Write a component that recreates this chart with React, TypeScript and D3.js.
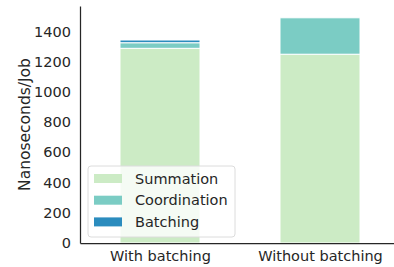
import React, { useEffect, useRef } from 'react';
import * as d3 from 'd3';

const categories = ['With batching', 'Without batching'];
const seriesNames = ['Summation', 'Coordination', 'Batching'];
const summation = [1288, 1249];
const coordination = [37, 241];
const batching = [18, 0];
const yTicks = [0, 200, 400, 600, 800, 1000, 1200, 1400];

const colors = ['#ccebc5', '#7bccc4', '#2b8cbe'];
const ink = '#262626';
const fontSize = '14.5px';

const App = () => {
  const svgRef = useRef<SVGSVGElement>(null);

  useEffect(() => {
    if (!svgRef.current) return;
    const W = 394;
    const H = 267;
    const margin = { top: 6, right: -6, bottom: 24, left: 80 };
    const width = W - margin.left - margin.right;
    const height = H - margin.top - margin.bottom;

    const svg = d3.select(svgRef.current);
    svg.selectAll('*').remove();

    const g = svg.append('g').attr('transform', `translate(${margin.left},${margin.top})`);

    const x = d3.scaleLinear().domain([-0.5, 1.5]).range([0, width]);
    const y = d3.scaleLinear().domain([0, 1568]).range([height, 0]);

    const rows = categories.map((c, i) => ({
      cat: c,
      i,
      Summation: summation[i],
      Coordination: coordination[i],
      Batching: batching[i],
    }));
    const stack = d3.stack<any>().keys(seriesNames)(rows);
    const barW = x(0.25) - x(0);

    stack.forEach((layer, li) => {
      g.selectAll(`.bar${li}`)
        .data(layer)
        .enter()
        .append('rect')
        .attr('x', (d: any) => x(d.data.i) - barW)
        .attr('width', barW * 2)
        .attr('y', (d: any) => y(d[1]))
        .attr('height', (d: any) => Math.max(0, y(d[0]) - y(d[1])))
        .attr('fill', colors[li])
        .attr('stroke', (d: any) => (d[1] - d[0] > 0 ? '#ffffff' : 'none'))
        .attr('stroke-width', 1);
    });

    // axes
    const yAxis = g.append('g')
      .call(d3.axisLeft(y).tickValues(yTicks).tickFormat(d3.format('d')).tickSize(0).tickPadding(9));
    yAxis.select('.domain').attr('stroke', ink).attr('stroke-width', 1.25);
    yAxis.selectAll('text')
      .attr('fill', ink)
      .style('font-family', 'DejaVu Sans')
      .style('font-size', fontSize);

    const xAxis = g.append('g')
      .attr('transform', `translate(0,${height})`)
      .call(d3.axisBottom(x).tickValues([0, 1]).tickFormat((d: any) => categories[d]).tickSize(0).tickPadding(8));
    xAxis.select('.domain').attr('stroke', ink).attr('stroke-width', 1.25);
    xAxis.selectAll('text')
      .attr('fill', ink)
      .style('font-family', 'DejaVu Sans')
      .style('font-size', fontSize);

    // y label
    svg.append('text')
      .attr('transform', `translate(30,${margin.top + height / 2}) rotate(-90)`)
      .attr('text-anchor', 'middle')
      .attr('fill', ink)
      .style('font-family', 'DejaVu Sans')
      .style('font-size', '15.5px')
      .text('Nanoseconds/Job');

    // legend
    const lg = svg.append('g').attr('transform', 'translate(88,166)');
    lg.append('rect')
      .attr('width', 147)
      .attr('height', 71)
      .attr('rx', 3)
      .attr('fill', '#ffffff')
      .attr('fill-opacity', 0.8)
      .attr('stroke', '#dcdcdc')
      .attr('stroke-width', 1);
    seriesNames.forEach((s, i) => {
      const cy = 12.5 + i * 21.7;
      lg.append('rect')
        .attr('x', 6)
        .attr('y', cy - 4.5)
        .attr('width', 28)
        .attr('height', 9)
        .attr('fill', colors[i]);
      lg.append('text')
        .attr('x', 47)
        .attr('y', cy)
        .attr('dy', '0.35em')
        .attr('fill', ink)
        .style('font-family', 'DejaVu Sans')
        .style('font-size', fontSize)
        .text(s);
    });
  }, []);

  return (
    <svg
      ref={svgRef}
      width={394}
      height={267}
      style={{ position: 'absolute', left: 0, top: 0, background: '#ffffff' }}
    />
  );
};

export default App;
